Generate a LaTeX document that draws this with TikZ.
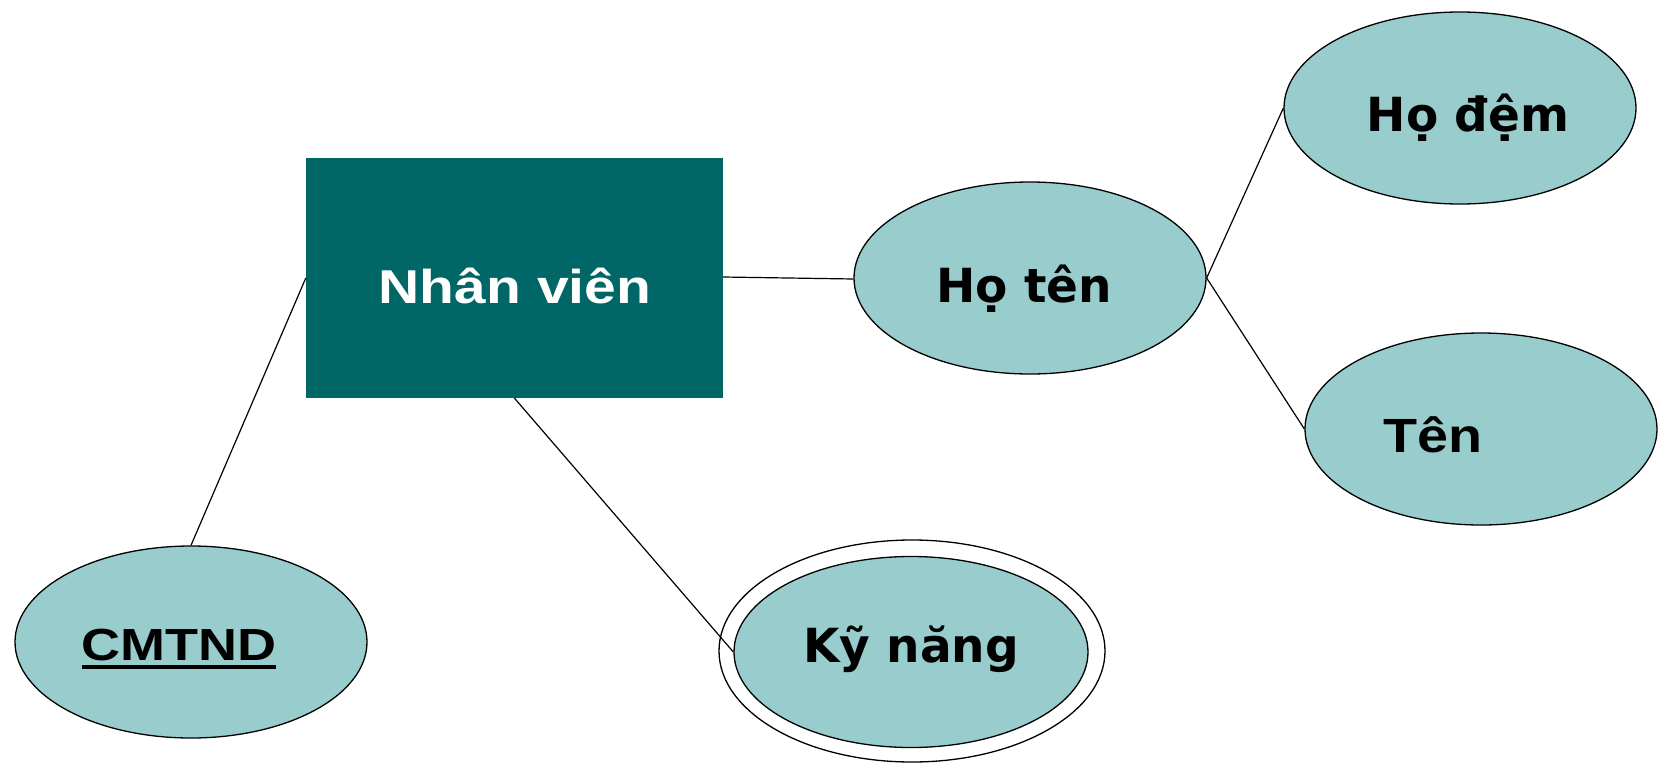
\documentclass[tikz,border=0pt]{standalone}
\usepackage{fontspec}
\usetikzlibrary{shapes.geometric}
\newfontfamily\arialish[FakeStretch=1.2]{Liberation Sans}
\newfontfamily\arialtn[FakeStretch=1.16]{Liberation Sans}
\newfontfamily\verdish{DejaVu Sans}
\definecolor{entityteal}{RGB}{0,102,102}
\definecolor{attrfill}{RGB}{153,204,204}
% key attribute: heavy underline
\newcommand\keyul[1]{\setbox0=\hbox{#1}\copy0\llap{\rule[-9pt]{\wd0}{4pt}}}
\begin{document}
\begin{tikzpicture}[x=1pt,y=-1pt,
  entitybox/.style={rectangle,fill=entityteal,inner sep=0pt,minimum width=417pt,minimum height=240pt},
  attr/.style={ellipse,draw=black,line width=1.3pt,fill=attrfill,inner sep=0pt,minimum width=352pt,minimum height=192pt},
  outerring/.style={ellipse,draw=black,line width=1.3pt,fill=white,inner sep=0pt},
  conn/.style={draw=black,line width=1.2pt},
  lbl/.style={anchor=base,inner sep=0pt,font=\fontsize{48}{50}\selectfont\bfseries}]
  \useasboundingbox (0,0) rectangle (1660,763);

  % entity
  \node[entitybox] (nv) at (514.5,278) {};
  \node[lbl,text=white,font=\fontsize{47.5}{50}\selectfont\arialish\bfseries] at (515,303) {Nhân viên};

  % attributes
  \node[attr] (ht) at (1030,278) {};
  \node[attr] (hd) at (1460,108) {};
  \node[attr] (ten) at (1481,429) {};
  \node[attr] (cm) at (191,642) {};
  \node[outerring,minimum width=386pt,minimum height=222pt] (kno) at (912,651) {};
  \node[attr,minimum width=354pt,minimum height=191pt] (kn) at (911,652) {};

  % labels
  \node[lbl,font=\fontsize{47}{50}\selectfont\verdish\bfseries] at (1024,302) {Họ tên};
  \node[lbl,font=\fontsize{47}{50}\selectfont\verdish\bfseries] at (1468,131) {Họ đệm};
  \node[lbl,font=\fontsize{48}{50}\selectfont\arialtn\bfseries] at (1433,452) {Tên};
  \node[lbl,font=\fontsize{47}{50}\selectfont\verdish\bfseries] at (911,662) {Kỹ năng};
  \node[lbl,font=\fontsize{45}{50}\selectfont\arialish\bfseries] at (179,660) {\keyul{CMTND}};

  % connectors
  \draw[conn] (nv.west) -- (cm.north);
  \draw[conn] ([yshift=1pt]nv.east) -- ([yshift=-1pt]ht.west);
  \draw[conn] (nv.south) -- (kn.west);
  \draw[conn] (ht.east) -- (hd.west);
  \draw[conn] (ht.east) -- (ten.west);
\end{tikzpicture}
\end{document}
